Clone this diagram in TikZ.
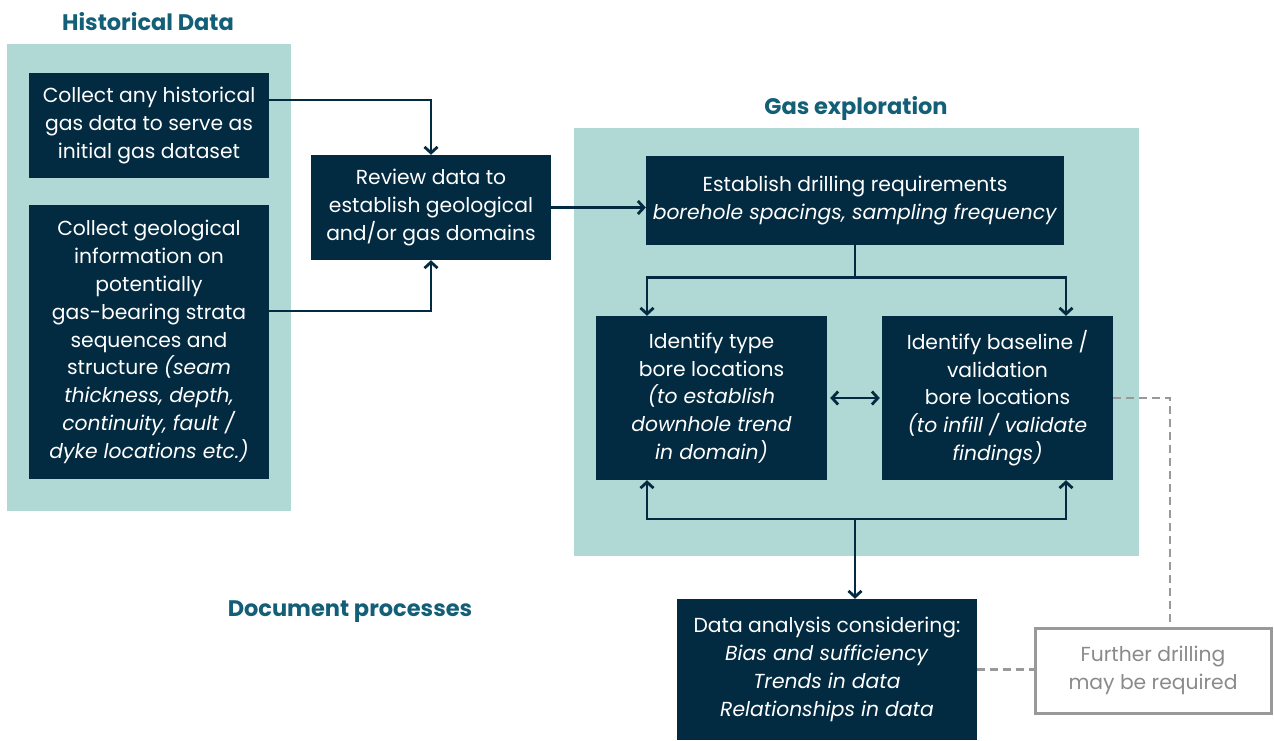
\documentclass[tikz,border=0pt]{standalone}
\usepackage{fontspec}
\setmainfont{Poppins}
\usetikzlibrary{arrows.meta,calc}
\definecolor{dark}{HTML}{022A40}
\definecolor{mint}{HTML}{B0D8D4}
\definecolor{teal}{HTML}{135F78}
\definecolor{grayl}{HTML}{999999}
\begin{document}
\begin{tikzpicture}[x=1pt,y=-1pt,
  dbox/.style={fill=dark,text=white,align=center,inner sep=0pt,font=\fontsize{20.3}{27.8}\selectfont},
  ttl/.style={text=teal,font=\fontsize{22.5}{25}\selectfont\bfseries},
  arr/.style={draw=dark,line width=2.8pt,-{Straight Barb[length=6pt,width=13pt,line width=2.8pt]}},
  darr/.style={draw=dark,line width=2.8pt,{Straight Barb[length=6pt,width=13pt,line width=2.8pt]}-{Straight Barb[length=6pt,width=13pt,line width=2.8pt]}},
  dsh/.style={draw=grayl,line width=2.5pt,dash pattern=on 8pt off 5pt}]
\useasboundingbox (0,0) rectangle (1274,740);
\fill[mint] (7,44) rectangle (291,511);
\fill[mint] (574,128) rectangle (1139,556);
\node[ttl] (t1) at (148,22) {Historical Data};
\node[ttl] (t2) at (856,108) {Gas exploration};
\node[ttl] (t3) at (350,612) {Document processes};
\node[dbox,minimum width=240,minimum height=105] (h1) at (149,125.5) {Collect any historical\\gas data to serve as\\initial gas dataset};
\node[dbox,minimum width=240,minimum height=274] (h2) at (149,342) {Collect geological\\information on\\potentially\\gas-bearing strata\\sequences and\\structure \textit{(seam}\\\textit{thickness, depth,}\\\textit{continuity, fault /}\\\textit{dyke locations etc.)}};
\node[dbox,minimum width=240,minimum height=105] (rev) at (431,207.5) {Review data to\\establish geological\\and/or gas domains};
\node[dbox,minimum width=418,minimum height=89] (est) at (855,200.5) {Establish drilling requirements\\\textit{borehole spacings, sampling frequency}};
\node[dbox,minimum width=231,minimum height=164] (typ) at (711.5,398) {Identify type\\bore locations\\\textit{(to establish}\\\textit{downhole trend}\\\textit{in domain)}};
\node[dbox,minimum width=231,minimum height=164] (bas) at (997.5,398) {Identify baseline /\\validation\\bore locations\\\textit{(to infill / validate}\\\textit{findings)}};
\node[dbox,minimum width=300,minimum height=141] (dat) at (827,669.5) {Data analysis considering:\\\textit{Bias and sufficiency}\\\textit{Trends in data}\\\textit{Relationships in data}};
\node[draw=grayl,line width=3pt,text=grayl!90!black,align=center,minimum width=236,minimum height=85,inner sep=0pt,font=\fontsize{20.3}{27.8}\selectfont] (fur) at (1153,670.5) {Further drilling\\may be required};
\draw[arr] ([yshift=25.5pt]h1.east) -| (rev.north);
\draw[arr] ([yshift=31pt]h2.east) -| (rev.south);
\draw[arr] (rev.east) -- (rev.east -| est.west);
\draw[arr] (est.south) -- ++(0,32) -| ([xshift=-64.5pt]typ.north);
\draw[arr] (est.south) ++(0,32) -| ([xshift=68.5pt]bas.north);
\draw[darr] ([xshift=3pt]typ.east) -- ([xshift=-2pt]bas.west);
\coordinate (j) at (855,519);
\draw[arr] (j) -| ([xshift=-64.5pt]typ.south);
\draw[arr] (j) -| ([xshift=68.5pt]bas.south);
\draw[arr] (j) -- (j |- dat.north);
\draw[dsh] (bas.east) -| ([xshift=17pt]fur.north);
\draw[dsh] (dat.east) -- (fur.west |- dat.east);
\end{tikzpicture}
\end{document}
